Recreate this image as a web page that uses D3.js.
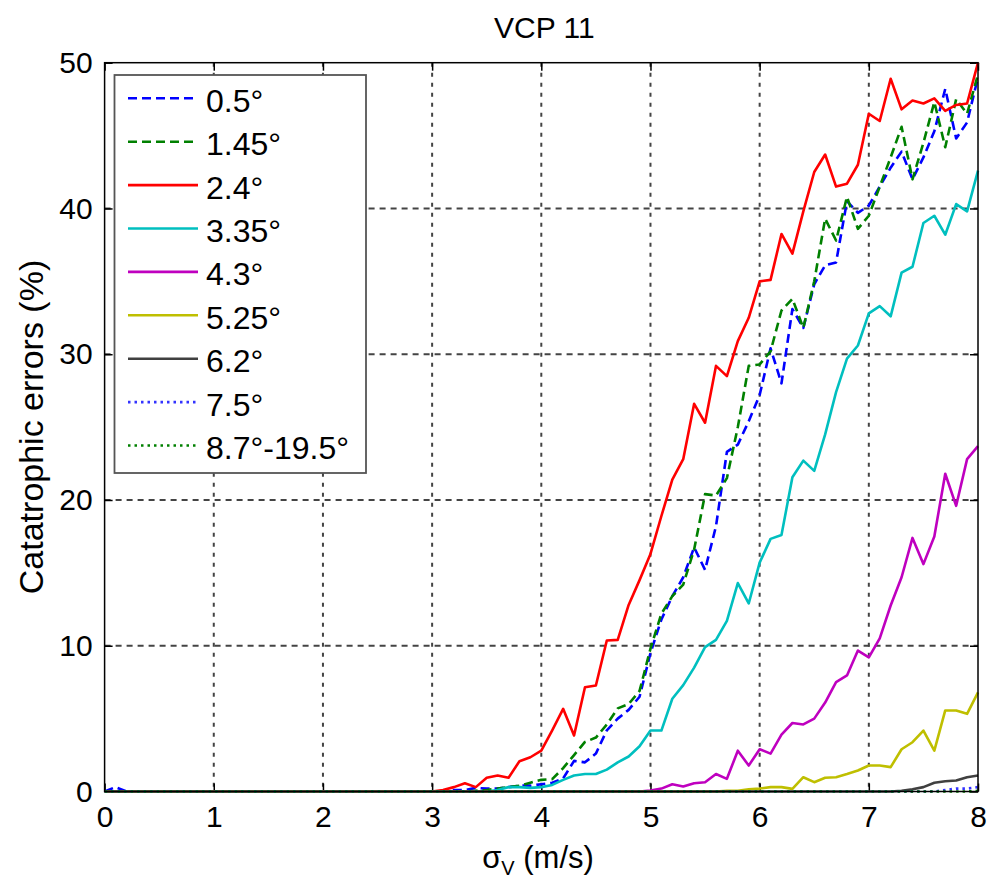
<!DOCTYPE html>
<html>
<head>
<meta charset="utf-8">
<script src="https://cdn.jsdelivr.net/npm/d3@7"></script>
<style>
  html, body { margin: 0; padding: 0; background: #fff; }
  svg { display: block; font-family: "Liberation Sans", Arial, sans-serif; }
</style>
</head>
<body>
<svg id="chart" width="991" height="882"></svg>
<script>
// ---- data ----
const sigmaV = [
  0.0,0.1,0.2,0.3,0.4,0.5,0.6,0.7,0.8,0.9,
  1.0,1.1,1.2,1.3,1.4,1.5,1.6,1.7,1.8,1.9,
  2.0,2.1,2.2,2.3,2.4,2.5,2.6,2.7,2.8,2.9,
  3.0,3.1,3.2,3.3,3.4,3.5,3.6,3.7,3.8,3.9,
  4.0,4.1,4.2,4.3,4.4,4.5,4.6,4.7,4.8,4.9,
  5.0,5.1,5.2,5.3,5.4,5.5,5.6,5.7,5.8,5.9,
  6.0,6.1,6.2,6.3,6.4,6.5,6.6,6.7,6.8,6.9,
  7.0,7.1,7.2,7.3,7.4,7.5,7.6,7.7,7.8,7.9,
  8.0
];

const err_0_5 = [
  0,0.3,0,0,0,0,0,0,0,0,
  0,0,0,0,0,0,0,0,0,0,
  0,0,0,0,0,0,0,0,0,0,
  0,0,0.1,0.1,0.25,0.2,0.2,0.3,0.4,0.4,
  0.5,0.6,0.9,2.1,2.0,2.6,4.2,5.0,5.6,6.5,
  9.5,11.8,13.4,14.7,16.75,15.2,18.2,23.3,23.8,25.4,
  27.2,30.4,28.0,33.1,31.8,34.8,36.1,36.3,40.5,39.7,
  40.2,41.5,42.8,43.9,42,43.5,45.3,48.2,44.8,45.9,
  49
];
const err_1_45 = [
  0,0,0,0,0,0,0,0,0,0,
  0,0,0,0,0,0,0,0,0,0,
  0,0,0,0,0,0,0,0,0,0,
  0,0,0,0,0.05,0.1,0.2,0.3,0.4,0.6,
  0.8,0.85,1.6,2.5,3.4,3.7,4.6,5.7,6.0,6.9,
  9.8,12.2,13.4,14.2,16.6,20.4,20.3,21.5,25.0,29.2,
  29.3,30.2,33.0,33.8,31.8,35,39.3,37.8,40.8,38.6,
  39.5,41.5,43.5,45.6,42,44.5,47.3,44.2,47.5,46.5,
  49.2
];
const err_2_4 = [
  0,0,0,0,0,0,0,0,0,0,
  0,0,0,0,0,0,0,0,0,0,
  0,0,0,0,0,0,0,0,0,0,
  0,0.1,0.3,0.57,0.3,0.94,1.1,0.94,2.08,2.35,
  2.8,4.2,5.67,3.84,7.15,7.27,10.36,10.4,12.8,14.5,
  16.3,18.9,21.4,22.8,26.6,25.3,29.2,28.5,30.9,32.5,
  35,35.1,38.25,36.9,39.8,42.5,43.7,41.5,41.7,43,
  46.5,46,48.9,46.8,47.4,47.2,47.55,46.7,47.1,47.2,
  50
];
const err_3_35 = [
  0,0,0,0,0,0,0,0,0,0,
  0,0,0,0,0,0,0,0,0,0,
  0,0,0,0,0,0,0,0,0,0,
  0,0,0,0,0,0,0.1,0.3,0.3,0.25,
  0.3,0.45,0.8,1.1,1.2,1.2,1.5,2.0,2.4,3.1,
  4.18,4.18,6.36,7.3,8.5,9.9,10.4,11.7,14.3,12.9,
  15.7,17.33,17.6,21.56,22.7,22.0,24.5,27.4,29.7,30.6,
  32.8,33.3,32.6,35.6,36.0,39.0,39.5,38.2,40.3,39.8,
  42.6
];
const err_4_3 = [
  0,0,0,0,0,0,0,0,0,0,
  0,0,0,0,0,0,0,0,0,0,
  0,0,0,0,0,0,0,0,0,0,
  0,0,0,0,0,0,0,0,0,0,
  0,0,0,0,0,0,0,0,0,0,
  0.07,0.2,0.5,0.34,0.57,0.64,1.2,0.87,2.8,1.78,
  2.9,2.6,3.9,4.7,4.6,5.0,6.1,7.5,7.96,9.67,
  9.2,10.5,12.76,14.7,17.4,15.6,17.5,21.8,19.6,22.8,
  23.7
];
const err_5_25 = [
  0,0,0,0,0,0,0,0,0,0,
  0,0,0,0,0,0,0,0,0,0,
  0,0,0,0,0,0,0,0,0,0,
  0,0,0,0,0,0,0,0,0,0,
  0,0,0,0,0,0,0,0,0,0,
  0,0,0,0,0,0,0,0.05,0.05,0.15,
  0.2,0.3,0.3,0.18,0.98,0.64,0.94,0.98,1.2,1.44,
  1.78,1.78,1.67,2.9,3.38,4.18,2.8,5.56,5.56,5.33,
  6.8
];
const err_6_2 = [
  0,0,0,0,0,0,0,0,0,0,
  0,0,0,0,0,0,0,0,0,0,
  0,0,0,0,0,0,0,0,0,0,
  0,0,0,0,0,0,0,0,0,0,
  0,0,0,0,0,0,0,0,0,0,
  0,0,0,0,0,0,0,0,0,0,
  0,0,0,0,0,0,0,0,0,0,
  0,0,0,0.05,0.15,0.3,0.6,0.7,0.75,0.98,
  1.1
];
const err_7_5 = [
  0,0,0,0,0,0,0,0,0,0,
  0,0,0,0,0,0,0,0,0,0,
  0,0,0,0,0,0,0,0,0,0,
  0,0,0,0,0,0,0,0,0,0,
  0,0,0,0,0,0,0,0,0,0,
  0,0,0,0,0,0,0,0,0,0,
  0,0,0,0,0,0,0,0,0,0,
  0,0,0,0,0,0,0,0.1,0.2,0.2,
  0.3
];
const err_8_7_19_5 = [
  0,0,0,0,0,0,0,0,0,0,
  0,0,0,0,0,0,0,0,0,0,
  0,0,0,0,0,0,0,0,0,0,
  0,0,0,0,0,0,0,0,0,0,
  0,0,0,0,0,0,0,0,0,0,
  0,0,0,0,0,0,0,0,0,0,
  0,0,0,0,0,0,0,0,0,0,
  0,0,0,0,0,0,0,0,0,0,
  0.05
];

const seriesLabels = ["0.5°", "1.45°", "2.4°", "3.35°", "4.3°", "5.25°", "6.2°", "7.5°", "8.7°-19.5°"];
const seriesValues = [err_0_5, err_1_45, err_2_4, err_3_35, err_4_3, err_5_25, err_6_2, err_7_5, err_8_7_19_5];
const seriesColors = ["#0000ff", "#008000", "#ff0000", "#00bfbf", "#bf00bf", "#bfbf00", "#404040", "#3333ff", "#008000"];
const seriesDash   = ["9,5", "9,5", null, null, null, null, null, "2.5,4", "2.5,4"];

const xTicks = [0, 1, 2, 3, 4, 5, 6, 7, 8];
const yTicks = [0, 10, 20, 30, 40, 50];
const titleText = "VCP 11";
const yLabelText = "Catatrophic errors (%)";

// ---- layout ----
const pL = 104.6, pR = 978, pT = 62.7, pB = 791.5;
const svg = d3.select("#chart");
const x = d3.scaleLinear().domain([0, 8]).range([pL, pR]);
const y = d3.scaleLinear().domain([0, 50]).range([pB, pT]);

svg.append("defs").append("clipPath").attr("id", "plotclip")
  .append("rect").attr("x", pL).attr("y", pT - 2).attr("width", pR - pL + 2).attr("height", pB - pT + 4);

// grid
const grid = svg.append("g");
grid.selectAll("line.v").data(xTicks.filter(d => d > 0 && d < 8)).join("line")
  .attr("x1", d => x(d)).attr("x2", d => x(d)).attr("y1", pT).attr("y2", pB)
  .attr("stroke", "#444").attr("stroke-width", 2).attr("stroke-dasharray", "4,6");
grid.selectAll("line.h").data(yTicks.filter(d => d > 0 && d < 50)).join("line")
  .attr("x1", pL).attr("x2", pR).attr("y1", d => y(d)).attr("y2", d => y(d))
  .attr("stroke", "#444").attr("stroke-width", 2).attr("stroke-dasharray", "6,5");

// axes (MATLAB style: ticks inward, labels outside)
const xAxisB = d3.axisBottom(x).tickValues(xTicks).tickSizeInner(-8).tickSizeOuter(0).tickPadding(14);
const xAxisT = d3.axisTop(x).tickValues(xTicks).tickSizeInner(-8).tickSizeOuter(0).tickFormat("");
const yAxisL = d3.axisLeft(y).tickValues(yTicks).tickSizeInner(-8).tickSizeOuter(0).tickPadding(12);
const yAxisR = d3.axisRight(y).tickValues(yTicks).tickSizeInner(-8).tickSizeOuter(0).tickFormat("");

function styleAxis(g) {
  g.select(".domain").remove();
  g.selectAll(".tick line").attr("stroke", "#000").attr("stroke-width", 1.5);
  g.selectAll(".tick text").attr("fill", "#000").attr("font-size", 30)
    .attr("font-family", "'Liberation Sans', Arial, sans-serif");
}
svg.append("g").attr("transform", `translate(0,${pB})`).call(xAxisB).call(styleAxis);
svg.append("g").attr("transform", `translate(0,${pT})`).call(xAxisT).call(styleAxis);
svg.append("g").attr("transform", `translate(${pL},0)`).call(yAxisL).call(styleAxis);
svg.append("g").attr("transform", `translate(${pR},0)`).call(yAxisR).call(styleAxis);

// lines
const line = d3.line().x((d, i) => x(sigmaV[i])).y(d => y(d));
const linesG = svg.append("g").attr("clip-path", "url(#plotclip)");
seriesValues.forEach((vals, k) => {
  linesG.append("path").datum(vals)
    .attr("d", line)
    .attr("fill", "none")
    .attr("stroke", seriesColors[k])
    .attr("stroke-width", 2.6)
    .attr("stroke-linejoin", "round")
    .attr("stroke-dasharray", seriesDash[k]);
});

// box
svg.append("rect").attr("x", pL).attr("y", pT).attr("width", pR - pL).attr("height", pB - pT)
  .attr("fill", "none").attr("stroke", "#000").attr("stroke-width", 1.5);

// legend
const lg = svg.append("g");
const lgX = 114.5, lgY = 75, lgW = 251.5, lgH = 398;
lg.append("rect").attr("x", lgX).attr("y", lgY).attr("width", lgW).attr("height", lgH)
  .attr("fill", "#fff").attr("stroke", "#555").attr("stroke-width", 1.8);
seriesLabels.forEach((lab, k) => {
  const cy = 98.3 + k * 43.4;
  lg.append("line").attr("x1", 128).attr("x2", 198).attr("y1", cy).attr("y2", cy)
    .attr("stroke", seriesColors[k]).attr("stroke-width", 2.6)
    .attr("stroke-dasharray", seriesDash[k]);
  lg.append("text").attr("x", 206).attr("y", cy + 13.5)
    .attr("font-size", 32).attr("fill", "#000").text(lab);
});

// title
svg.append("text").attr("x", (pL + pR) / 2 + 3).attr("y", 38)
  .attr("text-anchor", "middle").attr("font-size", 30).attr("fill", "#000").text(titleText);

// x label
const xl = svg.append("text").attr("x", 538).attr("y", 868)
  .attr("text-anchor", "middle").attr("font-size", 31).attr("fill", "#000");
xl.append("tspan").text("σ");
xl.append("tspan").attr("font-size", 20).attr("dy", 7).text("V");
xl.append("tspan").attr("dy", -7).text(" (m/s)");

// y label
svg.append("text").attr("transform", `translate(43,427) rotate(-90)`)
  .attr("text-anchor", "middle").attr("font-size", 34).attr("fill", "#000").text(yLabelText);
</script>
</body>
</html>
